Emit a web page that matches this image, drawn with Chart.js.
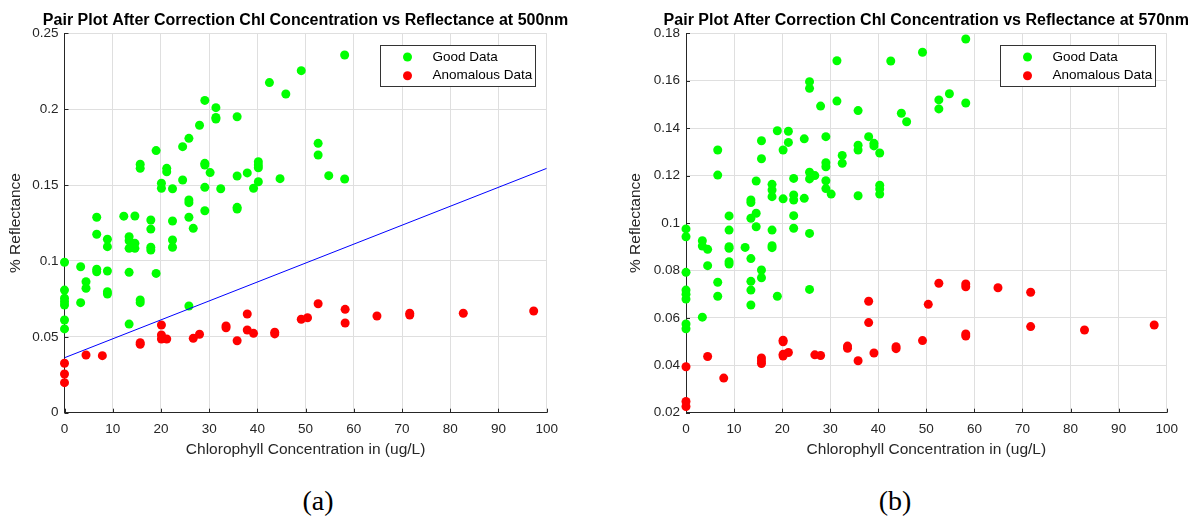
<!DOCTYPE html>
<html>
<head>
<meta charset="utf-8">
<title>Pair Plot After Correction</title>
<script src="https://cdn.jsdelivr.net/npm/chart.js@4.4.1/dist/chart.umd.min.js"></script>
<style>
  html, body { margin: 0; padding: 0; background: #fff; }
  body { width: 1194px; height: 516px; position: relative; overflow: hidden; }
  canvas { position: absolute; top: 0; }
  #chartA { left: 0; }
  #chartB { left: 600px; }
  .caption {
    position: absolute; top: 485px;
    font-family: 'Liberation Serif', 'Times New Roman', serif;
    font-size: 28px; color: #000;
    transform: translateX(-50%);
  }
</style>
</head>
<body>
<canvas id="chartA" width="600" height="470"></canvas>
<canvas id="chartB" width="594" height="470"></canvas>
<div class="caption" style="left:318px">(a)</div>
<div class="caption" style="left:895px">(b)</div>
<script>
const FONT = "'Liberation Sans', Arial, Helvetica, sans-serif";
const AXIS_COLOR = '#262626';
const GRID_COLOR = '#dfdfdf';

// shared x axis
const chlTicks = [0, 10, 20, 30, 40, 50, 60, 70, 80, 90, 100];

// (a) reflectance at 500nm
const chl500Good = [
    0, 0, 0, 0, 0, 0, 0,
    3.35, 3.35, 4.46, 4.46,
    6.68, 6.68, 6.68, 6.68,
    8.9, 8.9, 8.9, 8.9, 8.9,
    12.3,
    13.4, 13.4, 13.4, 13.4, 13.4,
    14.6, 14.6, 14.6,
    15.7, 15.7, 15.7, 15.7,
    17.9, 17.9, 17.9, 17.9,
    19.0, 19.0, 20.1, 20.1, 21.2, 21.2,
    22.4, 22.4, 22.4, 22.4,
    24.5, 24.5,
    25.8, 25.8, 25.8, 25.8, 25.8,
    26.7, 28.0,
    29.1, 29.1, 29.1, 29.1, 29.1,
    30.2, 31.4, 31.4, 31.4, 32.4,
    35.8, 35.8, 35.8, 35.8,
    37.9, 39.2,
    40.2, 40.2, 40.2, 40.2,
    42.5, 44.7, 45.9, 49.1,
    52.6, 52.6, 54.8, 58.1, 58.1
];
const refl500Good = [
    0.0991, 0.0808, 0.0754, 0.0731, 0.0710, 0.0611, 0.0552,
    0.0962, 0.0725, 0.0863, 0.0820,
    0.1288, 0.1176, 0.0945, 0.0929,
    0.1143, 0.1094, 0.0934, 0.0797, 0.0782,
    0.1295,
    0.1160, 0.1133, 0.1083, 0.0925, 0.0584,
    0.1296, 0.1116, 0.1083,
    0.1637, 0.1610, 0.0743, 0.0725,
    0.1270, 0.1210, 0.1090, 0.1072,
    0.1727, 0.0918, 0.1512, 0.1479, 0.1610, 0.1588,
    0.1476, 0.1263, 0.1138, 0.1090,
    0.1753, 0.1533,
    0.1808, 0.1402, 0.1384, 0.1288, 0.0703,
    0.1215, 0.1894,
    0.2058, 0.1643, 0.1632, 0.1485, 0.1331,
    0.1582, 0.2010, 0.1946, 0.1935, 0.1476,
    0.1950, 0.1560, 0.1353, 0.1342,
    0.1580, 0.1479,
    0.1654, 0.1632, 0.1614, 0.1522,
    0.2175, 0.1542, 0.2100, 0.2254,
    0.1775, 0.1698, 0.1562, 0.2357, 0.1540
];
const chl500Bad = [
    0, 0, 0, 4.46, 7.85, 15.7, 15.7,
    20.1, 20.1, 20.1, 21.2, 26.7, 28.0,
    33.5, 33.5, 35.8, 37.9, 37.9, 39.2, 43.6, 43.6,
    49.1, 50.4, 52.6, 58.2, 58.2, 64.8, 71.6, 71.6, 82.7, 97.3
];
const refl500Bad = [
    0.0326, 0.0255, 0.0198, 0.0380, 0.0376, 0.0461, 0.0451,
    0.0578, 0.0512, 0.0486, 0.0486, 0.0490, 0.0517,
    0.0571, 0.0560, 0.0474, 0.0650, 0.0545, 0.0523, 0.0530, 0.0519,
    0.0616, 0.0626, 0.0718, 0.0681, 0.0591, 0.0637, 0.0655, 0.0644, 0.0655, 0.0670
];
const fitChl500 = [0, 100];
const fitRefl500 = [0.0362, 0.161];
const reflTicks500 = [0, 0.05, 0.1, 0.15, 0.2, 0.25];

// (b) reflectance at 570nm
const chl570Good = [
    0, 0, 0, 0, 0, 0, 0, 0,
    3.4, 3.4, 3.4, 4.5, 4.5,
    6.6, 6.6, 6.6, 6.6,
    8.96, 8.96, 8.96, 8.96, 8.96, 8.96,
    12.3,
    13.5, 13.5, 13.5, 13.5, 13.5, 13.5, 13.5,
    14.6, 14.6, 14.6,
    15.7, 15.7, 15.7, 15.7,
    17.9, 17.9, 17.9, 17.9, 17.9, 17.9,
    19.0, 19.0, 20.2, 20.2, 21.3, 21.3,
    22.4, 22.4, 22.4, 22.4, 22.4,
    24.6, 24.6,
    25.7, 25.7, 25.7, 25.7, 25.7, 25.7,
    26.8, 28.0,
    29.1, 29.1, 29.1, 29.1, 29.1,
    30.2, 31.4, 31.4, 32.5, 32.5,
    35.8, 35.8, 35.8, 35.8,
    38.0, 39.1, 39.1,
    40.3, 40.3, 40.3, 40.3,
    42.6, 44.8, 45.9, 49.2,
    52.6, 52.6, 54.8, 58.2, 58.2
];
const refl570Good = [
    0.0975, 0.0942, 0.0792, 0.0717, 0.0700, 0.0679, 0.0574, 0.0554,
    0.0925, 0.0903, 0.0603, 0.0889, 0.0820,
    0.1308, 0.1202, 0.0750, 0.0691,
    0.1030, 0.0970, 0.0900, 0.0893, 0.0837, 0.0827,
    0.0897,
    0.1097, 0.1086, 0.1020, 0.0850, 0.0754, 0.0717, 0.0654,
    0.1177, 0.1041, 0.0984,
    0.1347, 0.1271, 0.0802, 0.0769,
    0.1163, 0.1139, 0.1111, 0.0970, 0.0904, 0.0896,
    0.1389, 0.0691, 0.1308, 0.1102, 0.1387, 0.1340,
    0.1188, 0.1118, 0.1097, 0.1031, 0.0978,
    0.1355, 0.1104,
    0.1596, 0.1568, 0.1214, 0.1186, 0.0956, 0.0720,
    0.1200, 0.1493,
    0.1364, 0.1254, 0.1237, 0.1178, 0.1145,
    0.1122, 0.1684, 0.1514, 0.1285, 0.1252,
    0.1474, 0.1328, 0.1308, 0.1115,
    0.1364, 0.1336, 0.1325,
    0.1295, 0.1159, 0.1143, 0.1122,
    0.1683, 0.1463, 0.1427, 0.1720,
    0.1519, 0.1481, 0.1545, 0.1776, 0.1506
];
const chl570Bad = [
    0, 0, 0, 4.5, 7.85, 15.7, 15.7, 15.7,
    20.2, 20.2, 20.2, 20.2, 21.3, 26.8, 28.0,
    33.6, 33.6, 35.8, 38.0, 38.0, 39.1, 43.7, 43.7,
    49.2, 50.4, 52.6, 58.2, 58.2, 58.2, 58.2,
    64.9, 71.7, 71.7, 82.9, 97.4
];
const refl570Bad = [
    0.0394, 0.0247, 0.0226, 0.0437, 0.0346, 0.0431, 0.0418, 0.0407,
    0.0506, 0.0499, 0.0446, 0.0439, 0.0454, 0.0444, 0.0441,
    0.0481, 0.0472, 0.0419, 0.0670, 0.0580, 0.0452, 0.0478, 0.0470,
    0.0504, 0.0657, 0.0746, 0.0743, 0.0731, 0.0532, 0.0523,
    0.0727, 0.0708, 0.0563, 0.0549, 0.0570
];
const reflTicks570 = [0.02, 0.04, 0.06, 0.08, 0.1, 0.12, 0.14, 0.16, 0.18];

const toPoints = (xs, ys) => xs.map((x, i) => ({ x: x, y: ys[i] }));

// title centred over the plot box, like MATLAB does it
const plotTitle = {
    id: 'plotTitle',
    afterDraw(chart, args, opts) {
        const { ctx, chartArea } = chart;
        ctx.save();
        ctx.font = `bold 16px ${FONT}`;
        ctx.fillStyle = '#000';
        ctx.textAlign = 'center';
        ctx.textBaseline = 'middle';
        ctx.fillText(opts.text, (chartArea.left + chartArea.right) / 2, 21);
        ctx.restore();
    }
};

// small inward tick marks on the left and bottom axes
const innerTicks = {
    id: 'innerTicks',
    beforeDatasetsDraw(chart) {
        const { ctx, chartArea, scales } = chart;
        ctx.save();
        ctx.strokeStyle = AXIS_COLOR;
        ctx.lineWidth = 1;
        ctx.beginPath();
        scales.x.ticks.forEach(t => {
            const px = Math.round(scales.x.getPixelForValue(t.value)) + 0.5;
            ctx.moveTo(px, chartArea.bottom);
            ctx.lineTo(px, chartArea.bottom - 4);
        });
        scales.y.ticks.forEach(t => {
            const py = Math.round(scales.y.getPixelForValue(t.value)) + 0.5;
            ctx.moveTo(chartArea.left, py);
            ctx.lineTo(chartArea.left + 4, py);
        });
        ctx.stroke();
        ctx.restore();
    }
};

// boxed legend in the top-right corner of the plot
const boxLegend = {
    id: 'boxLegend',
    afterDatasetsDraw(chart) {
        const { ctx, chartArea } = chart;
        const items = chart.data.datasets.filter(ds => ds.type !== 'line');
        const w = 155, h = 41;
        const x = Math.round(chartArea.right - 166.5) + 0.5;
        const y = Math.round(chartArea.top + 11.5) + 0.5;
        ctx.save();
        ctx.fillStyle = '#fff';
        ctx.fillRect(x, y, w, h);
        ctx.strokeStyle = '#333';
        ctx.lineWidth = 1;
        ctx.strokeRect(x, y, w, h);
        ctx.font = `13.5px ${FONT}`;
        ctx.textBaseline = 'middle';
        items.forEach((ds, i) => {
            const cy = y + 11.5 + i * 18.7;
            ctx.beginPath();
            ctx.arc(x + 27, cy, 4.5, 0, Math.PI * 2);
            ctx.fillStyle = ds.backgroundColor;
            ctx.fill();
            ctx.fillStyle = '#000';
            ctx.fillText(ds.label, x + 52, cy);
        });
        ctx.restore();
    }
};

function makePairPlot(canvasId, cfg) {
    const datasets = [
        {
            label: 'Good Data',
            data: toPoints(cfg.goodX, cfg.goodY),
            backgroundColor: '#00ff00',
            borderColor: '#00ff00',
            pointRadius: 4.5,
            pointBorderWidth: 0,
            clip: false,
            order: 1
        },
        {
            label: 'Anomalous Data',
            data: toPoints(cfg.badX, cfg.badY),
            backgroundColor: '#ff0000',
            borderColor: '#ff0000',
            pointRadius: 4.5,
            pointBorderWidth: 0,
            clip: false,
            order: 2
        }
    ];
    if (cfg.fitX) {
        datasets.push({
            type: 'line',
            label: 'fit',
            data: toPoints(cfg.fitX, cfg.fitY),
            borderColor: '#0000ff',
            borderWidth: 1,
            pointRadius: 0,
            fill: false,
            tension: 0,
            order: 0
        });
    }

    return new Chart(document.getElementById(canvasId), {
        type: 'scatter',
        data: { datasets },
        options: {
            responsive: false,
            animation: false,
            devicePixelRatio: 1,
            layout: { padding: { top: 33.3, right: cfg.padRight, left: 0, bottom: 0 } },
            plugins: {
                legend: { display: false },
                tooltip: { enabled: false },
                plotTitle: { text: cfg.title }
            },
            scales: {
                x: {
                    type: 'linear',
                    min: 0,
                    max: 100,
                    afterBuildTicks: s => { s.ticks = chlTicks.map(v => ({ value: v })); },
                    afterFit: s => { s.height = 57.3; },
                    grid: { color: GRID_COLOR, drawTicks: false },
                    border: { color: AXIS_COLOR },
                    ticks: {
                        color: AXIS_COLOR,
                        font: { family: FONT, size: 13.5 },
                        padding: 8,
                        maxRotation: 0
                    },
                    title: {
                        display: true,
                        text: 'Chlorophyll Concentration in (ug/L)',
                        color: AXIS_COLOR,
                        font: { family: FONT, size: 15.5 },
                        padding: { top: 0, bottom: 11 }
                    }
                },
                y: {
                    type: 'linear',
                    min: cfg.yTicks[0],
                    max: cfg.yTicks[cfg.yTicks.length - 1],
                    afterBuildTicks: s => { s.ticks = cfg.yTicks.map(v => ({ value: v })); },
                    afterFit: s => { s.width = cfg.yAxisWidth; },
                    grid: { color: GRID_COLOR, drawTicks: false },
                    border: { color: AXIS_COLOR },
                    ticks: {
                        color: AXIS_COLOR,
                        font: { family: FONT, size: 13.5 },
                        padding: 6,
                        callback: v => String(+Number(v).toFixed(4))
                    },
                    title: {
                        display: true,
                        text: '% Reflectance',
                        color: AXIS_COLOR,
                        font: { family: FONT, size: 15.5 },
                        padding: { top: cfg.yTitlePad, bottom: 0 }
                    }
                }
            }
        },
        plugins: [innerTicks, boxLegend, plotTitle]
    });
}

makePairPlot('chartA', {
    title: 'Pair Plot After Correction Chl Concentration vs Reflectance at 500nm',
    goodX: chl500Good, goodY: refl500Good,
    badX: chl500Bad, badY: refl500Bad,
    fitX: fitChl500, fitY: fitRefl500,
    yTicks: reflTicks500,
    yAxisWidth: 64.5,
    yTitlePad: 6.7,
    padRight: 53.3
});

makePairPlot('chartB', {
    title: 'Pair Plot After Correction Chl Concentration vs Reflectance at 570nm',
    goodX: chl570Good, goodY: refl570Good,
    badX: chl570Bad, badY: refl570Bad,
    yTicks: reflTicks570,
    yAxisWidth: 86,
    yTitlePad: 26.7,
    padRight: 27.3
});
</script>
</body>
</html>
